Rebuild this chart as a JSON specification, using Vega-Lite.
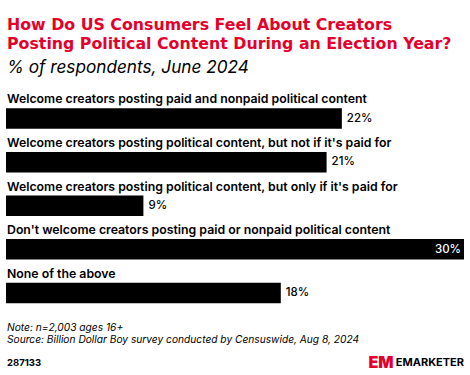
{
  "$schema": "https://vega.github.io/schema/vega-lite/v6.json",
  "width": 470,
  "height": 375,
  "autosize": {"type": "none"},
  "padding": 0,
  "background": "white",
  "config": {"view": {"stroke": null}, "font": "Inter"},
  "data": {
    "values": [
      {"category": "Welcome creators posting paid and nonpaid political content", "value": 22, "label": "22%"},
      {"category": "Welcome creators posting political content, but not if it's paid for", "value": 21, "label": "21%"},
      {"category": "Welcome creators posting political content, but only if it's paid for", "value": 9, "label": "9%"},
      {"category": "Don't welcome creators posting paid or nonpaid political content", "value": 30, "label": "30%"},
      {"category": "None of the above", "value": 18, "label": "18%"}
    ]
  },
  "layer": [
    {
      "mark": {"type": "bar", "color": "#000000", "size": 20.5, "yOffset": 8.75},
      "encoding": {
        "y": {"field": "category", "type": "nominal", "sort": null, "scale": {"type": "band", "range": [88, 306], "paddingInner": 0, "paddingOuter": 0}, "axis": null},
        "x": {"field": "value", "type": "quantitative", "scale": {"domain": [0, 30], "range": [6, 464], "nice": false, "zero": true}, "axis": null}
      }
    },
    {
      "mark": {"type": "text", "align": "left", "baseline": "alphabetic", "yOffset": -6.5, "dx": 1, "fontSize": 12.3, "fontWeight": 600, "color": "#000000"},
      "encoding": {
        "y": {"field": "category", "type": "nominal", "sort": null},
        "x": {"datum": 0, "type": "quantitative"},
        "text": {"field": "category"}
      }
    },
    {
      "transform": [{"filter": "datum.value < 30"}],
      "mark": {"type": "text", "align": "left", "baseline": "middle", "yOffset": 9, "dx": 5, "fontSize": 11.5, "fontWeight": 500, "color": "#000000"},
      "encoding": {
        "y": {"field": "category", "type": "nominal", "sort": null},
        "x": {"field": "value", "type": "quantitative"},
        "text": {"field": "label"}
      }
    },
    {
      "transform": [{"filter": "datum.value >= 30"}],
      "mark": {"type": "text", "align": "right", "baseline": "middle", "yOffset": 9, "dx": -3, "fontSize": 11.5, "fontWeight": 500, "color": "#ffffff"},
      "encoding": {
        "y": {"field": "category", "type": "nominal", "sort": null},
        "x": {"field": "value", "type": "quantitative"},
        "text": {"field": "label"}
      }
    },
    {
      "data": {"values": [{}]},
      "mark": {"type": "rule", "x": 6, "x2": 465, "y": 7.5, "strokeWidth": 3, "color": "#000000"},
      "encoding": {}
    },
    {
      "data": {"values": [{}]},
      "mark": {"type": "text", "x": 7, "y": 30, "align": "left", "baseline": "alphabetic", "font": "DejaVu Sans", "fontSize": 15.8, "fontWeight": 700, "color": "#e4002b", "text": "How Do US Consumers Feel About Creators"},
      "encoding": {}
    },
    {
      "data": {"values": [{}]},
      "mark": {"type": "text", "x": 7, "y": 49, "align": "left", "baseline": "alphabetic", "font": "DejaVu Sans", "fontSize": 15.8, "fontWeight": 700, "color": "#e4002b", "text": "Posting Political Content During an Election Year?"},
      "encoding": {}
    },
    {
      "data": {"values": [{}]},
      "mark": {"type": "text", "x": 7, "y": 73, "align": "left", "baseline": "alphabetic", "fontSize": 17.2, "fontStyle": "italic", "fontWeight": 400, "color": "#000000", "text": "% of respondents, June 2024"},
      "encoding": {}
    },
    {
      "data": {"values": [{}]},
      "mark": {"type": "rule", "x": 6, "x2": 465, "y": 81.5, "strokeWidth": 1, "color": "#999999"},
      "encoding": {}
    },
    {
      "data": {"values": [{}]},
      "mark": {"type": "rule", "x": 6, "x2": 465, "y": 318.5, "strokeWidth": 1, "color": "#999999"},
      "encoding": {}
    },
    {
      "data": {"values": [{}]},
      "mark": {"type": "text", "x": 7, "y": 331, "align": "left", "baseline": "alphabetic", "fontSize": 10.2, "fontStyle": "italic", "color": "#000000", "text": "Note: n=2,003 ages 16+"},
      "encoding": {}
    },
    {
      "data": {"values": [{}]},
      "mark": {"type": "text", "x": 7, "y": 342.5, "align": "left", "baseline": "alphabetic", "fontSize": 10.2, "fontStyle": "italic", "color": "#000000", "text": "Source: Billion Dollar Boy survey conducted by Censuswide, Aug 8, 2024"},
      "encoding": {}
    },
    {
      "data": {"values": [{}]},
      "mark": {"type": "rule", "x": 6, "x2": 465, "y": 349.5, "strokeWidth": 2.5, "color": "#000000"},
      "encoding": {}
    },
    {
      "data": {"values": [{}]},
      "mark": {"type": "text", "x": 7, "y": 365.5, "align": "left", "baseline": "alphabetic", "fontSize": 9.5, "fontWeight": 700, "color": "#000000", "text": "287133"},
      "encoding": {}
    },
    {
      "data": {"values": [{}]},
      "mark": {"type": "text", "x": 381, "y": 368, "align": "center", "baseline": "alphabetic", "fontSize": 16, "fontWeight": 900, "color": "#e4002b", "text": "EM"},
      "encoding": {}
    },
    {
      "data": {"values": [{}]},
      "mark": {"type": "rule", "x": 396.5, "y": 352, "y2": 371, "strokeWidth": 1, "color": "#000000"},
      "encoding": {}
    },
    {
      "data": {"values": [{}]},
      "mark": {"type": "text", "x": 464, "y": 366, "align": "right", "baseline": "alphabetic", "fontSize": 11, "fontWeight": 700, "color": "#000000", "text": "EMARKETER"},
      "encoding": {}
    }
  ]
}
